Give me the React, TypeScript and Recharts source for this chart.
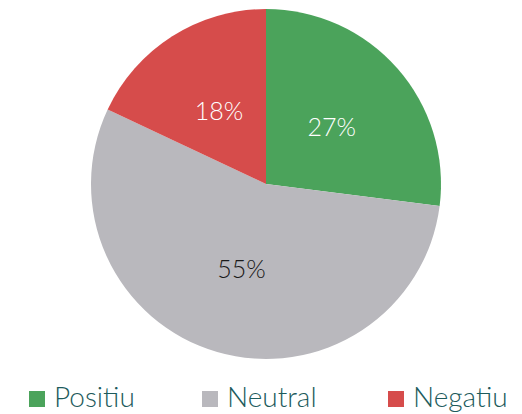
import React from 'react';
import { PieChart, Pie, Cell } from 'recharts';

const categories = ['Positiu', 'Neutral', 'Negatiu'];
const shares = [27, 55, 18];
const colors = ['#4ba35b', '#b9b8bd', '#d64c4b'];
const labelColors = ['#ffffff', '#1a1a1a', '#ffffff'];

const data = categories.map((name, i) => ({ name, value: shares[i] }));

const RADIAN = Math.PI / 180;
const FONT = 'Lato, "Open Sans", sans-serif';

const renderLabel = (props: any) => {
  const { cx, cy, midAngle, outerRadius, index, value } = props;
  const r = outerRadius * 0.5;
  const x = cx + r * Math.cos(-midAngle * RADIAN);
  const y = cy + r * Math.sin(-midAngle * RADIAN);
  return (
    <text
      x={x}
      y={y}
      fill={labelColors[index]}
      textAnchor="middle"
      dominantBaseline="central"
      fontFamily={FONT}
      fontWeight={300}
      fontSize={25}
    >
      {`${value}%`}
    </text>
  );
};

// legend items sit at fixed slots along the bottom, like the original
const legendX = [29, 202, 388];

const renderLegend = () => (
  <g>
    {categories.map((name, i) => (
      <g key={name}>
        <rect x={legendX[i]} y={391} width={16} height={16} fill={colors[i]} />
        <text
          x={legendX[i] + 25}
          y={407}
          fill="#1d5b5c"
          fontFamily={FONT}
          fontWeight={300}
          fontSize={28}
        >
          {name}
        </text>
      </g>
    ))}
  </g>
);

const App: React.FC = () => {
  return (
    <div style={{ position: 'absolute', left: 0, top: 0 }}>
      <PieChart width={522} height={414} margin={{ top: 0, right: 0, bottom: 0, left: 0 }}>
        <Pie
          data={data}
          dataKey="value"
          nameKey="name"
          cx={266}
          cy={184}
          outerRadius={175}
          startAngle={90}
          endAngle={-270}
          stroke="none"
          labelLine={false}
          label={renderLabel}
          isAnimationActive={false}
        >
          {data.map((d, i) => (
            <Cell key={d.name} fill={colors[i]} />
          ))}
        </Pie>
        <svg x={0} y={0} width={522} height={414} style={{ overflow: 'visible' }}>
          {renderLegend()}
        </svg>
      </PieChart>
    </div>
  );
};

export default App;
